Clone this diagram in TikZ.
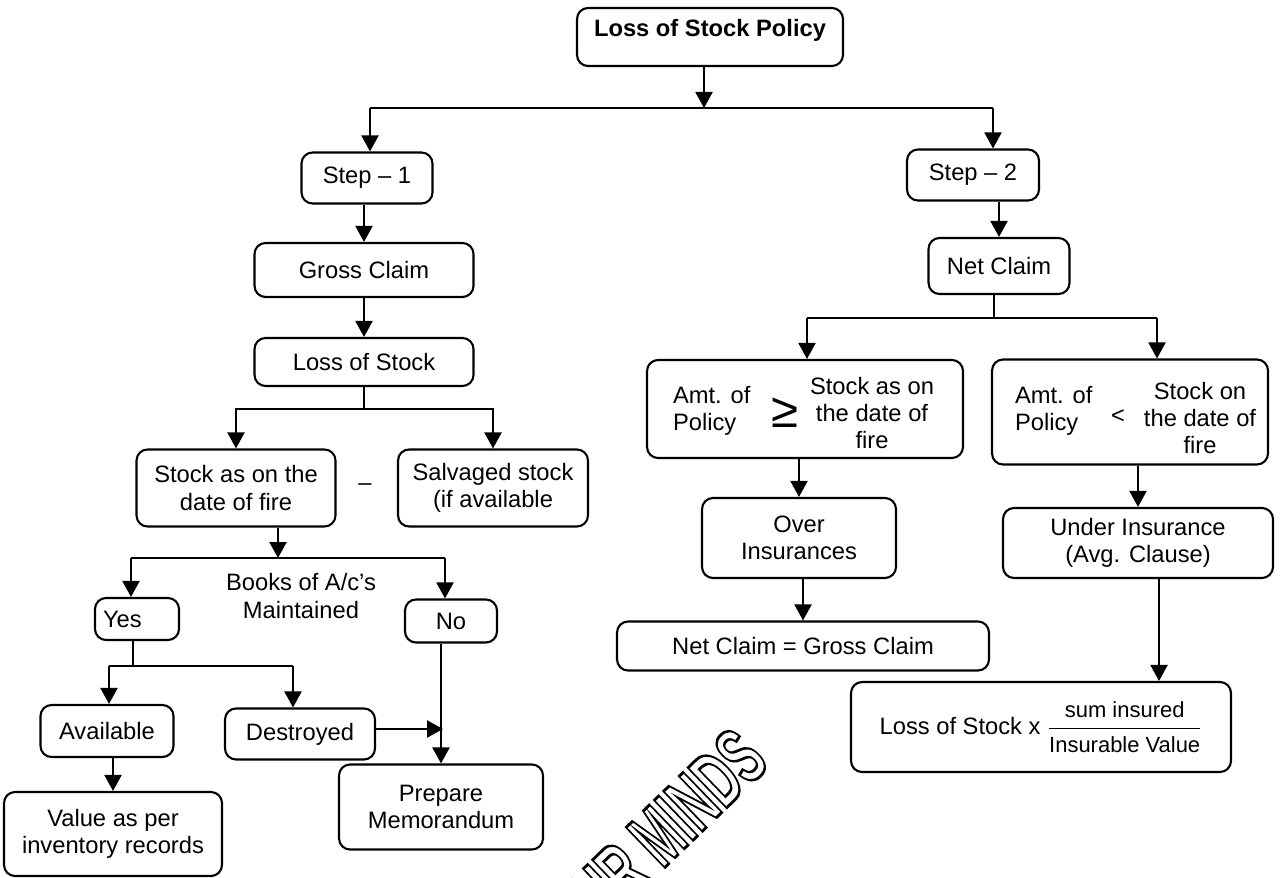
\documentclass[tikz,border=0pt]{standalone}
\usepackage{fontspec}
\setmainfont{Liberation Sans}
\usetikzlibrary{arrows.meta}

\begin{document}
\begin{tikzpicture}[x=0.02cm, y=-0.02cm, line width=1.2pt,
  >={Triangle[length=0.32cm,width=0.34cm]},
  box/.style={draw, rounded corners=0.22cm, align=center, font=\fontsize{13.5}{15.5}\selectfont},
  txt/.style={inner sep=0pt, align=center, font=\fontsize{13.5}{15.5}\selectfont},
  wmark/.style={rotate=44, xscale=0.58, anchor=base east, font=\fontsize{46}{46}\selectfont\bfseries}]
\useasboundingbox (0,0) rectangle (1280,878);
\clip (0,0) rectangle (1280,878);

% watermark
\node[wmark] (wm) at (774,762) {\special{pdf:literal direct 1 Tr 1.6 w}OUR MINDS\special{pdf:literal direct 0 Tr}};

\node[box, font=\fontsize{13.5}{15.5}\selectfont\bfseries, minimum width=5.32cm, minimum height=1.16cm, text height=0.4cm, text depth=0.4cm] (pol) at (710,37) {Loss of Stock Policy};

% step 1
\node[box, minimum width=2.62cm, minimum height=1.02cm] (s1) at (367,178) {Step – 1};
\node[box, minimum width=4.38cm, minimum height=1.08cm] (gc) at (364,270) {Gross Claim};
\node[box, minimum width=4.38cm, minimum height=0.96cm] (ls) at (364,362) {Loss of Stock};
\node[box, minimum width=3.98cm, minimum height=1.54cm] (sa) at (236,488) {Stock as on the\\date of fire};
\node[txt] (mi) at (365,487) {–};
\node[box, minimum width=3.8cm, minimum height=1.54cm] (sv) at (493,488) {Salvaged stock\\(if available};
\node[txt] (bk) at (301,596) {Books of A/c’s\\Maintained};
\node[box, minimum width=1.68cm, minimum height=0.84cm, text width=1.36cm, align=left] (yes) at (137,619) {Yes};
\node[box, minimum width=1.84cm, minimum height=0.86cm] (no) at (451,621) {No};
\node[box, minimum width=2.66cm, minimum height=1.04cm] (av) at (107,731) {Available};
\node[box, minimum width=3.0cm, minimum height=1.02cm] (de) at (300,734) {Destroyed};
\node[box, minimum width=4.08cm, minimum height=1.7cm] (pm) at (441,807) {Prepare\\Memorandum};
\node[box, minimum width=4.36cm, minimum height=1.68cm] (vr) at (113,834) {Value as per\\inventory records};

% step 2
\node[box, minimum width=2.64cm, minimum height=1.02cm] (s2) at (973,175) {Step – 2};
\node[box, minimum width=2.82cm, minimum height=1.12cm] (nc) at (999,266) {Net Claim};
\node[box, minimum width=6.32cm, minimum height=1.96cm] (ge) at (805,409) {};
\node[txt, align=left, anchor=west] (ge1) at (672,411) {Amt. of\\Policy};
\node[inner sep=0pt, font=\fontsize{28}{28}\selectfont] (ge2) at (785,413) {≥};
\node[txt] (ge3) at (872,413) {Stock as on\\the date of\\fire};
\node[box, minimum width=5.52cm, minimum height=2.1cm] (lt) at (1130,412) {};
\node[txt, align=left, anchor=west] (lt1) at (1014,411) {Amt. of\\Policy};
\node[txt] (lt2) at (1118,417) {<};
\node[txt] (lt3) at (1200,418) {Stock on\\the date of\\fire};
\node[box, minimum width=3.88cm, minimum height=1.6cm] (ov) at (799,538) {Over\\Insurances};
\node[box, minimum width=7.44cm, minimum height=0.98cm] (ng) at (803,646) {Net Claim = Gross Claim};
\node[box, minimum width=5.4cm, minimum height=1.4cm] (ui) at (1138,543) {Under Insurance\\(Avg. Clause)};
\node[box, minimum width=7.6cm, minimum height=1.8cm] (fm) at (1041,727) {Loss of Stock x \(\displaystyle\frac{\mbox{\fontsize{12.5}{14}\selectfont sum insured}}{\mbox{\fontsize{12.5}{14}\selectfont Insurable Value}}\)};

% top split
\coordinate (j0) at (704,108);
\coordinate (j1) at (370,108);
\coordinate (j2) at (993,108);
\draw[->] (pol.south -| j0) -- (j0);
\draw (j1) -- (j2);
\draw[->] (j1) -- (j1 |- s1.north);
\draw[->] (j2) -- (j2 |- s2.north);

% left branch
\draw[->] (s1.south -| gc) -- (gc);
\draw[->] (gc) -- (ls);
\coordinate (j3) at (364,409);
\draw (ls) -- (j3);
\draw[->] (j3) -| (sa);
\draw[->] (j3) -| (sv);
\coordinate (j4) at (278,558);
\coordinate (j5) at (131,558);
\coordinate (j6) at (445,558);
\draw[->] (sa.south -| j4) -- (j4);
\draw (j5) -- (j6);
\draw[->] (j5) -- (j5 |- yes.north);
\draw[->] (j6) -- (j6 |- no.north);
\coordinate (j7) at (133,666);
\coordinate (j8) at (109,666);
\coordinate (j9) at (293,666);
\draw (yes.south -| j7) -- (j7);
\draw (j8) -- (j9);
\draw[->] (j8) -- (j8 |- av.north);
\draw[->] (j9) -- (j9 |- de.north);
\draw[->] (av.south -| vr) -- (vr);
\coordinate (j10) at (443,729);
\draw[->] (de.east |- j10) -- (j10);
\draw[->] (no.south -| pm) -- (pm);

% right branch
\draw[->] (s2.south -| nc) -- (nc);
\coordinate (j11) at (994,318);
\coordinate (j12) at (807,318);
\coordinate (j13) at (1157,318);
\draw (nc.south -| j11) -- (j11);
\draw (j12) -- (j13);
\draw[->] (j12) -- (j12 |- ge.north);
\draw[->] (j13) -- (j13 |- lt.north);
\draw[->] (ge.south -| ov) -- (ov);
\draw[->] (ov.south -| ng) -- (ng);
\draw[->] (lt.south -| ui) -- (ui);
\coordinate (j14) at (1159,600);
\draw[->] (ui.south -| j14) -- (fm.north -| j14);
\end{tikzpicture}
\end{document}
